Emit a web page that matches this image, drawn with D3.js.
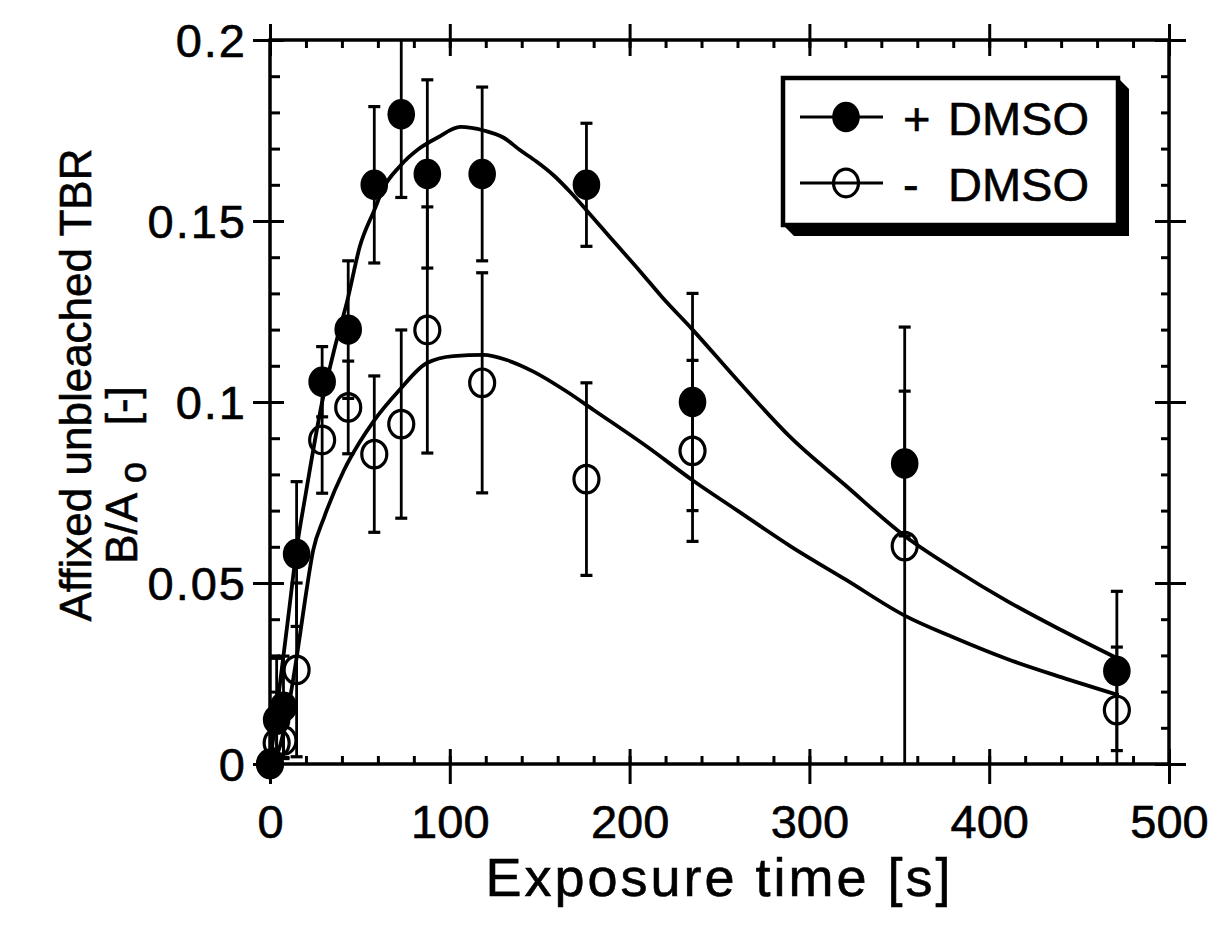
<!DOCTYPE html>
<html>
<head>
<meta charset="utf-8">
<script src="https://cdn.jsdelivr.net/npm/d3@7"></script>
<style>
  body { margin: 0; background: #fff; }
  text { font-family: "Liberation Sans", Arial, sans-serif; fill: #000; stroke: #000; stroke-width: 0.6px; }
</style>
</head>
<body>
<div id="chart"></div>
<script>
//******************
// Data
//******************
var times = [0, 3.7, 7.5, 14.8, 29, 43.5, 58, 73, 87.5, 118, 176, 235, 353, 471];

var plusDMSO = [0, 0.0122, 0.0158, 0.058, 0.1056, 0.12, 0.16, 0.1795, 0.163, 0.163, 0.16, 0.1, 0.083, 0.0257];
var plusErr = [0, 0.017, 0.014, 0.02, 0.0097, 0.019, 0.0216, 0.023, 0.026, 0.024, 0.017, 0.03, 0.02, 0.022];

var minusDMSO = [0, 0.0058, 0.0065, 0.026, 0.0895, 0.0985, 0.0856, 0.0939, 0.1199, 0.1053, 0.0787, 0.0865, 0.0602, 0.0149];
var minusErr = [0, 0.004, 0.005, 0.024, 0.0147, 0.0128, 0.0216, 0.026, 0.034, 0.0304, 0.0266, 0.025, 0.0605, 0.0174];

// fitted curves
var plusCurveT = [0, 5, 10, 15, 20, 29, 36, 43, 50, 58, 63, 72, 83, 93, 106, 119, 130, 139, 148, 158, 167, 176, 190, 206, 218, 235, 260, 290, 320, 353, 380, 410, 440, 472];
var plusCurveY = [0, 0.02, 0.04, 0.06, 0.075, 0.1, 0.115, 0.128, 0.143, 0.153, 0.159, 0.165, 0.17, 0.173, 0.176, 0.175, 0.173, 0.1696, 0.1665, 0.1625, 0.158, 0.153, 0.145, 0.136, 0.129, 0.12, 0.106, 0.09, 0.077, 0.063, 0.054, 0.045, 0.037, 0.029];

var minusCurveT = [0, 5, 10, 15, 20, 24, 30, 41, 50, 57.5, 72, 87, 102, 118.7, 131.7, 146.5, 165, 180, 209.6, 235, 260, 290, 320, 353, 380, 410, 440, 472];
var minusCurveY = [0, 0.004, 0.015, 0.03, 0.047, 0.059, 0.068, 0.081, 0.089, 0.0946, 0.1033, 0.1107, 0.1127, 0.113, 0.1116, 0.1084, 0.1029, 0.0978, 0.0877, 0.0784, 0.07, 0.06, 0.051, 0.041, 0.035, 0.029, 0.024, 0.019];

var xMajor = [0, 100, 200, 300, 400, 500];
var xMinor = d3.range(0, 501, 20);
var yMajor = [0, 0.05, 0.1, 0.15, 0.2];
var yMajorLabels = ["0", "0.05", "0.1", "0.15", "0.2"];
var yMinor = d3.range(0, 21).map((d) => d / 100);

var seriesNames = ["DMSO", "DMSO"];
var seriesSigns = ["+", "-"];

//******************
// Setup
//******************
var width = 1216;
var height = 932;
var tickFont = 47;

var x = d3.scaleLinear().domain([0, 500]).range([270, 1169]);
var y = d3.scaleLinear().domain([0, 0.2]).range([764, 40]);

var svg = d3
  .select("#chart")
  .append("svg")
  .attr("width", width)
  .attr("height", height);

svg
  .append("defs")
  .append("clipPath")
  .attr("id", "plot-clip")
  .append("rect")
  .attr("x", x(0))
  .attr("y", y(0.2))
  .attr("width", x(500) - x(0))
  .attr("height", y(0) - y(0.2));

//******************
// Axes
//******************
function styleAxis(g) {
  g.select(".domain").remove();
  g.selectAll(".tick line").attr("stroke", "#000").attr("stroke-width", 3);
}

// bottom
svg.append("g")
  .attr("transform", `translate(0,${y(0)})`)
  .call(d3.axisBottom(x).tickValues(xMinor).tickSize(-8).tickFormat(""))
  .call(styleAxis);
svg.append("g")
  .attr("transform", `translate(0,${y(0)})`)
  .call(d3.axisBottom(x).tickValues(xMajor).tickSize(-15).tickFormat(""))
  .call(styleAxis);
var xAxisG = svg.append("g")
  .attr("transform", `translate(0,${y(0)})`)
  .call(d3.axisBottom(x).tickValues(xMajor).tickSize(20).tickFormat(d3.format("d")))
  .call(styleAxis);
xAxisG.selectAll(".tick text")
  .attr("y", 74)
  .attr("dy", 0)
  .attr("font-size", tickFont)
  .attr("font-family", null);

// top
svg.append("g")
  .attr("transform", `translate(0,${y(0.2)})`)
  .call(d3.axisTop(x).tickValues(xMinor).tickSize(-8).tickFormat(""))
  .call(styleAxis);
svg.append("g")
  .attr("transform", `translate(0,${y(0.2)})`)
  .call(d3.axisTop(x).tickValues(xMajor).tickSize(16).tickFormat(""))
  .call(styleAxis);
svg.append("g")
  .attr("transform", `translate(0,${y(0.2)})`)
  .call(d3.axisTop(x).tickValues(xMajor).tickSize(-16).tickFormat(""))
  .call(styleAxis);

// left
svg.append("g")
  .attr("transform", `translate(${x(0)},0)`)
  .call(d3.axisLeft(y).tickValues(yMinor).tickSize(-10).tickFormat(""))
  .call(styleAxis);
svg.append("g")
  .attr("transform", `translate(${x(0)},0)`)
  .call(d3.axisLeft(y).tickValues(yMajor).tickSize(-14).tickFormat(""))
  .call(styleAxis);
var yAxisG = svg.append("g")
  .attr("transform", `translate(${x(0)},0)`)
  .call(d3.axisLeft(y).tickValues(yMajor).tickSize(17).tickFormat((d, i) => yMajorLabels[i]))
  .call(styleAxis);
yAxisG.selectAll(".tick text")
  .attr("x", -23)
  .attr("dy", "0.36em")
  .attr("font-size", tickFont)
  .attr("letter-spacing", 2)
  .attr("font-family", null);

// right
svg.append("g")
  .attr("transform", `translate(${x(500)},0)`)
  .call(d3.axisRight(y).tickValues(yMinor).tickSize(-8).tickFormat(""))
  .call(styleAxis);
svg.append("g")
  .attr("transform", `translate(${x(500)},0)`)
  .call(d3.axisRight(y).tickValues(yMajor).tickSize(-14).tickFormat(""))
  .call(styleAxis);
svg.append("g")
  .attr("transform", `translate(${x(500)},0)`)
  .call(d3.axisRight(y).tickValues(yMajor).tickSize(17).tickFormat(""))
  .call(styleAxis);

// frame
svg.append("rect")
  .attr("x", x(0))
  .attr("y", y(0.2))
  .attr("width", x(500) - x(0))
  .attr("height", y(0) - y(0.2))
  .attr("fill", "none")
  .attr("stroke", "#000")
  .attr("stroke-width", 3.5);

// axis titles
svg.append("text")
  .attr("x", (x(0) + x(500)) / 2)
  .attr("y", 896)
  .attr("text-anchor", "middle")
  .attr("font-size", 54)
  .attr("letter-spacing", 3)
  .text("Exposure time [s]");

var yTitle = svg.append("g").attr("transform", "rotate(-90)");
yTitle.append("text")
  .attr("x", -385)
  .attr("y", 91)
  .attr("text-anchor", "middle")
  .attr("font-size", 44)
  .text("Affixed unbleached TBR");
var yTitle2 = yTitle.append("text")
  .attr("x", -475)
  .attr("y", 137)
  .attr("text-anchor", "middle")
  .attr("font-size", 44)
  .attr("xml:space", "preserve");
yTitle2.append("tspan").text("B/A ");
yTitle2.append("tspan").attr("dy", 9).attr("font-size", 38).text("o");
yTitle2.append("tspan").attr("dy", -9).text("   [-]");

//******************
// Curves, error bars, markers
//******************
var plot = svg.append("g").attr("clip-path", "url(#plot-clip)");

var lineGen = d3
  .line()
  .x((d) => x(d[0]))
  .y((d) => y(d[1]))
  .curve(d3.curveMonotoneX);

[
  d3.zip(plusCurveT, plusCurveY),
  d3.zip(minusCurveT, minusCurveY)
].forEach((pts) => {
  plot.append("path")
    .attr("d", lineGen(pts))
    .attr("fill", "none")
    .attr("stroke", "#000")
    .attr("stroke-width", 3.8)
    .attr("stroke-linejoin", "round");
});

var series = [
  { vals: plusDMSO, err: plusErr, filled: true },
  { vals: minusDMSO, err: minusErr, filled: false }
];

series.forEach((s) => {
  var pts = times.map((t, i) => ({ t: t, v: s.vals[i], e: s.err[i] }));
  var bars = plot.append("g")
    .selectAll("g")
    .data(pts.filter((d) => d.e > 0))
    .join("g")
    .attr("stroke", "#000");
  bars.append("line")
    .attr("x1", (d) => x(d.t))
    .attr("x2", (d) => x(d.t))
    .attr("y1", (d) => y(d.v - d.e))
    .attr("y2", (d) => y(d.v + d.e))
    .attr("stroke-width", 2.8);
  bars.selectAll(".cap")
    .data((d) => [d.v - d.e, d.v + d.e].map((v) => ({ t: d.t, v: v })))
    .join("line")
    .attr("class", "cap")
    .attr("x1", (d) => x(d.t) - 6)
    .attr("x2", (d) => x(d.t) + 6)
    .attr("y1", (d) => y(d.v))
    .attr("y2", (d) => y(d.v))
    .attr("stroke-width", 3.2);
});

series.forEach((s) => {
  var pts = times.map((t, i) => ({ t: t, v: s.vals[i] }));
  svg.append("g")
    .selectAll("ellipse")
    .data(pts)
    .join("ellipse")
    .attr("cx", (d) => x(d.t))
    .attr("cy", (d) => y(d.v))
    .attr("rx", s.filled ? 13.8 : 12.5)
    .attr("ry", s.filled ? 15.2 : 13.8)
    .attr("fill", s.filled ? "#000" : "none")
    .attr("stroke", "#000")
    .attr("stroke-width", s.filled ? 0 : 3.2);
});

//******************
// Legend
//******************
var lx0 = 783, ly0 = 78, lx1 = 1118, ly1 = 225, sh = 11;
var legend = svg.append("g").attr("class", "legend");
legend.append("polygon")
  .attr("points", [
    [lx1, ly0], [lx1 + sh, ly0 + sh], [lx1 + sh, ly1 + sh],
    [lx0 + sh, ly1 + sh], [lx0, ly1]
  ].map((p) => p.join(",")).join(" "))
  .attr("fill", "#000");
legend.append("rect")
  .attr("x", lx0)
  .attr("y", ly0)
  .attr("width", lx1 - lx0)
  .attr("height", ly1 - ly0)
  .attr("fill", "#fff")
  .attr("stroke", "#000")
  .attr("stroke-width", 4.5);

var rowY = [117, 183];
series.forEach((s, i) => {
  legend.append("line")
    .attr("x1", 800)
    .attr("x2", 883)
    .attr("y1", rowY[i])
    .attr("y2", rowY[i])
    .attr("stroke", "#000")
    .attr("stroke-width", 2.8);
  legend.append("ellipse")
    .attr("cx", 846)
    .attr("cy", rowY[i])
    .attr("rx", s.filled ? 13.8 : 12.5)
    .attr("ry", s.filled ? 15.2 : 13.8)
    .attr("fill", s.filled ? "#000" : "none")
    .attr("stroke", "#000")
    .attr("stroke-width", s.filled ? 0 : 3.2);
  var t = legend.append("text")
    .attr("x", 903)
    .attr("y", rowY[i] + 18)
    .attr("font-size", 47);
  t.append("tspan").text(seriesSigns[i]);
  t.append("tspan").attr("x", 948).text(seriesNames[i]);
});
</script>
</body>
</html>
